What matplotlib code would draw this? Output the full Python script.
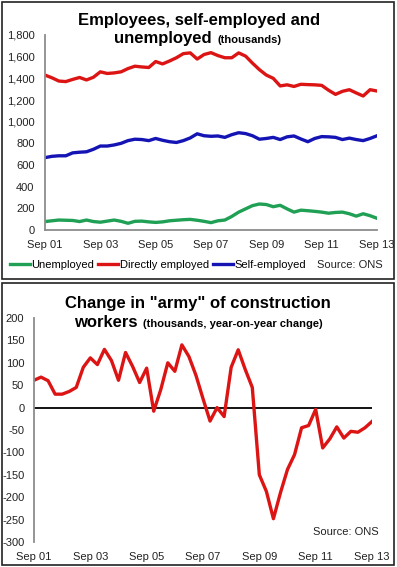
import numpy as np
import matplotlib
matplotlib.use("Agg")
import matplotlib.pyplot as plt
from matplotlib.lines import Line2D
from matplotlib.patches import Rectangle

plt.rcParams['font.family'] = ['Liberation Sans', 'DejaVu Sans']

## data (quarterly, Sep 01 .. Sep 13, thousands)
tick_labels = ['Sep 01', 'Sep 03', 'Sep 05', 'Sep 07', 'Sep 09', 'Sep 11', 'Sep 13']

directly_employed = [1430, 1405, 1375, 1370, 1390, 1408, 1385, 1410, 1460, 1445,
                     1450, 1460, 1490, 1512, 1505, 1500, 1555, 1533, 1560, 1590,
                     1628, 1635, 1578, 1620, 1637, 1610, 1590, 1590, 1635, 1605,
                     1540, 1480, 1430, 1400, 1330, 1340, 1325, 1345, 1342, 1340,
                     1335, 1290, 1252, 1280, 1295, 1265, 1237, 1295, 1283]

self_employed = [668, 680, 685, 685, 712, 718, 722, 745, 775, 775,
                 785, 800, 825, 838, 835, 825, 845, 828, 815, 808,
                 825, 850, 888, 870, 865, 868, 855, 880, 898, 890,
                 870, 838, 845, 855, 835, 860, 868, 840, 815, 845,
                 862, 860, 855, 835, 848, 835, 825, 845, 870]

unemployed = [78, 85, 92, 90, 88, 78, 92, 78, 72, 82,
              92, 80, 62, 80, 82, 75, 70, 75, 85, 90,
              95, 98, 90, 80, 68, 85, 92, 125, 165, 195,
              225, 240, 235, 215, 228, 195, 165, 183, 178, 172,
              165, 155, 162, 165, 150, 128, 150, 132, 108]

army_change = [61, 68, 60, 30, 30, 36, 45, 90, 111, 96,
               130, 105, 61, 123, 92, 56, 88, -8, 40, 100,
               81, 140, 114, 72, 20, -30, 0, -20, 90, 129,
               85, 45, -150, -187, -248, -190, -138, -105, -45, -40,
               -4, -90, -70, -43, -68, -53, -55, -45, -31]

top_yticks = [0, 200, 400, 600, 800, 1000, 1200, 1400, 1600, 1800]
bot_yticks = [200, 150, 100, 50, 0, -50, -100, -150, -200, -250, -300]

RED = '#DC1414'
BLUE = '#1414B4'
GREEN = '#20A055'
GREY = '#8C8C8C'
LW = 2.4

W, H = 397, 567
fig = plt.figure(figsize=(W / 100, H / 100), dpi=100)


def px(x0, y0, x1, y1):
    # pixel box (top-left origin) -> figure rect
    return [x0 / W, 1 - y1 / H, (x1 - x0) / W, (y1 - y0) / H]


# panel borders
for y0, y1 in [(2, 279), (283, 565)]:
    fig.patches.append(Rectangle((2 / W, 1 - y1 / H), 392 / W, (y1 - y0) / H,
                                 transform=fig.transFigure, fill=False,
                                 edgecolor='#222222', lw=1.2))

#### top chart
q = np.arange(len(directly_employed))
ax1 = fig.add_axes(px(45, 35, 377, 230))
ax1.plot(q, unemployed, color=GREEN, lw=LW, solid_joinstyle='round')
ax1.plot(q, directly_employed, color=RED, lw=LW, solid_joinstyle='round')
ax1.plot(q, self_employed, color=BLUE, lw=LW, solid_joinstyle='round')
ax1.set_xlim(0, len(q) - 1)
ax1.set_ylim(0, 1800)
ax1.set_yticks(top_yticks)
ax1.set_yticklabels([f'{v:,}' for v in top_yticks])
ax1.set_xticks(np.arange(0, len(q), 8))
ax1.set_xticklabels(tick_labels)
for s in ['top', 'right']:
    ax1.spines[s].set_visible(False)
for s in ['left', 'bottom']:
    ax1.spines[s].set_color(GREY)
    ax1.spines[s].set_linewidth(1.3)
ax1.tick_params(axis='both', length=0, labelsize=8, colors='#222222')
ax1.tick_params(axis='y', pad=7.5)
ax1.tick_params(axis='x', pad=7)
ax1.patch.set_alpha(0)

fig.text(199 / W, 1 - 25 / H, 'Employees, self-employed and', ha='center',
         va='baseline', fontsize=12, fontweight='bold')
fig.text(212 / W, 1 - 43 / H, 'unemployed', ha='right', va='baseline',
         fontsize=12, fontweight='bold')
fig.text(217 / W, 1 - 43 / H, '(thousands)', ha='left', va='baseline',
         fontsize=8, fontweight='bold')

handles = [Line2D([], [], color=GREEN, lw=LW),
           Line2D([], [], color=RED, lw=LW),
           Line2D([], [], color=BLUE, lw=LW)]
fig.legend(handles, ['Unemployed', 'Directly employed', 'Self-employed'],
           loc='center left', bbox_to_anchor=(10 / W, 1 - 265 / H), ncol=3,
           frameon=False, fontsize=8, handlelength=1.8, handletextpad=0.1,
           columnspacing=0.4, borderpad=0, borderaxespad=0)
fig.text(317 / W, 1 - 265 / H, 'Source: ONS', ha='left', va='center', fontsize=8,
         color='#222222')

#### bottom chart
q2 = np.arange(len(army_change))
ax2 = fig.add_axes(px(34, 318, 372, 542))
ax2.axhline(0, color='black', lw=1.3, zorder=1)
ax2.plot(q2, army_change, color=RED, lw=LW, solid_joinstyle='round', zorder=2)
ax2.set_xlim(0, len(q2) - 1)
ax2.set_ylim(-300, 200)
ax2.set_yticks(bot_yticks)
ax2.set_yticklabels([str(v) for v in bot_yticks])
ax2.set_xticks(np.arange(0, len(q2), 8))
ax2.set_xticklabels(tick_labels)
for s in ['top', 'right', 'bottom']:
    ax2.spines[s].set_visible(False)
ax2.spines['left'].set_color(GREY)
ax2.spines['left'].set_linewidth(1.3)
ax2.tick_params(axis='both', length=0, labelsize=8, colors='#222222')
ax2.tick_params(axis='y', pad=7)
ax2.tick_params(axis='x', pad=7.5)
ax2.patch.set_alpha(0)

fig.text(198 / W, 1 - 308 / H, 'Change in "army" of construction', ha='center',
         va='baseline', fontsize=12, fontweight='bold')
fig.text(138 / W, 1 - 327 / H, 'workers', ha='right', va='baseline',
         fontsize=12, fontweight='bold')
fig.text(143 / W, 1 - 327 / H, '(thousands, year-on-year change)', ha='left',
         va='baseline', fontsize=8, fontweight='bold')
fig.text(313 / W, 1 - 532 / H, 'Source: ONS', ha='left', va='center', fontsize=8,
         color='#222222')

fig.savefig('out.png', dpi=100)
